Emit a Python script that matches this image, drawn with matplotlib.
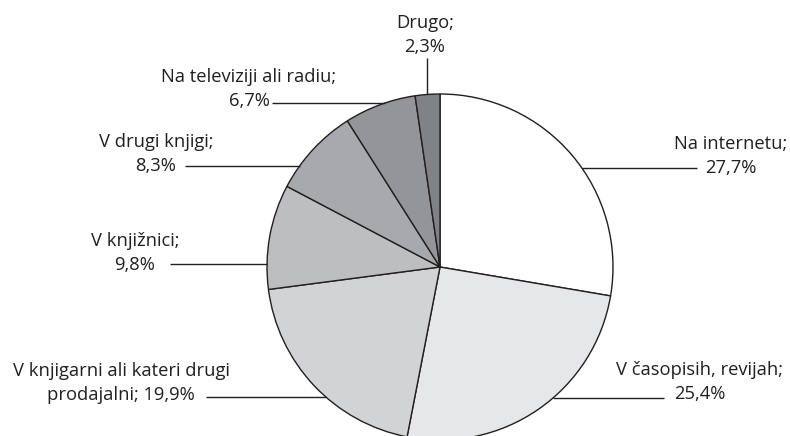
import numpy as np
import matplotlib
matplotlib.use("Agg")
import matplotlib.pyplot as plt

labels = ["Na internetu;", "V časopisih, revijah;", "V knjigarni ali kateri drugi\nprodajalni;",
          "V knjižnici;", "V drugi knjigi;", "Na televiziji ali radiu;", "Drugo;"]
shares = [27.7, 25.4, 19.9, 9.8, 8.3, 6.7, 2.3]
colors = ["#ffffff", "#e6e7e8", "#d1d3d4", "#bcbec0", "#a7a9ac", "#939598", "#808285"]

W, H = 790, 436
ink = "#231f20"
plt.rcParams["font.family"] = ["Open Sans", "DejaVu Sans"]

fig = plt.figure(figsize=(W / 100, H / 100), dpi=100)
ax = fig.add_axes([0, 0, 1, 1])

cx, cy, r = 440, H - 267, 173
ax.pie(shares, colors=colors, startangle=90, counterclock=False,
       center=(cx, cy), radius=r, frame=True,
       wedgeprops=dict(edgecolor=ink, linewidth=1.0))
ax.set_xlim(0, W)
ax.set_ylim(0, H)
ax.set_aspect("equal")
ax.axis("off")


def fmt(v):
    return f"{v:.1f}".replace(".", ",") + "%"


def edge_x(y, side):
    dy = y - cy
    return cx + side * np.sqrt(r * r - dy * dy)


# label layout: (text centre x, text centre y, leader y, leader start x, side)
layout = [
    (731, H - 156, H - 168, 697, +1),
    (700, H - 382, H - 398, 664, +1),
    (121, H - 383, H - 397, 206, -1),
    (135, H - 253, H - 264, 170, -1),
    (156, H - 154, H - 166, 185, -1),
    (249, H - 89, H - 103, 272, -1),
]

fs = 13.2
ls = 1.42
for (tx, ty, ly, lx, side), lab, v in zip(layout, labels, shares):
    if "\n" in lab:
        text = lab + " " + fmt(v)
    else:
        text = lab + "\n" + fmt(v)
    ax.text(tx, ty, text, ha="center", va="center", multialignment="center",
            fontsize=fs, color=ink, linespacing=ls)
    ax.plot([lx, edge_x(ly, side)], [ly, ly], color=ink, lw=1.0, solid_capstyle="butt")

# smallest slice: label above the pie with a vertical leader
dx = 427
ax.text(425, H - 35, labels[-1] + "\n" + fmt(shares[-1]), ha="center", va="center",
        multialignment="center", fontsize=fs, color=ink, linespacing=ls)
ax.plot([dx, dx], [H - 58, cy + np.sqrt(r * r - (dx - cx) ** 2)], color=ink, lw=1.0,
        solid_capstyle="butt")

fig.savefig("out.png", dpi=100, facecolor="white")
